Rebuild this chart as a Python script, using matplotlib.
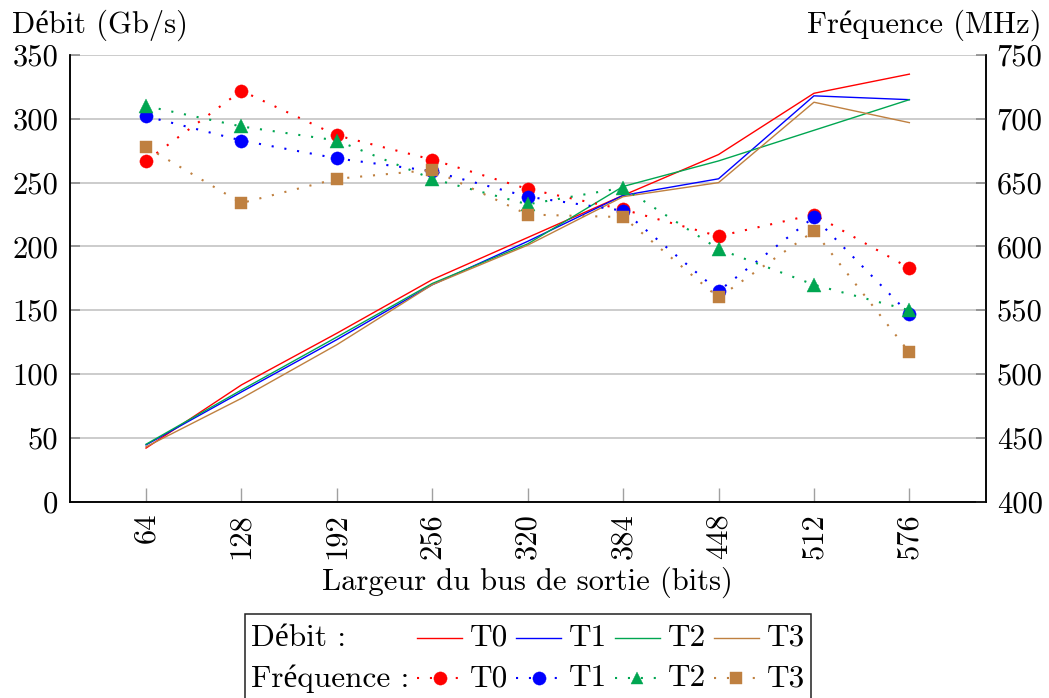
import matplotlib
matplotlib.use("Agg")
import matplotlib.pyplot as plt
from matplotlib.lines import Line2D
from matplotlib.offsetbox import (AnchoredOffsetbox, DrawingArea, HPacker,
                                  TextArea, VPacker)

plt.rcParams['font.family'] = ['cmr10', 'Liberation Serif']
plt.rcParams['mathtext.fontset'] = 'cm'
plt.rcParams['axes.formatter.use_mathtext'] = True

# Bus widths (bits)
bus_width = [64, 128, 192, 256, 320, 384, 448, 512, 576]
series = ['T0', 'T1', 'T2', 'T3']

# Throughput (Gb/s), left axis
debit_T0 = [42, 91.5, 132, 174, 207, 240, 272, 320, 335]
debit_T1 = [44.5, 86, 127, 170, 204, 240, 253, 318, 315]
debit_T2 = [45, 87.5, 129, 171, 202, 247, 267, 291, 315]
debit_T3 = [43, 81, 123, 170, 201, 239, 250, 313, 297]

# Frequency (MHz), right axis
freq_T0 = [667, 722, 687, 668, 645, 629, 608, 625, 583]
freq_T1 = [702, 683, 669, 659, 639, 628, 565, 623, 547]
freq_T2 = [710, 694, 683, 653, 633, 646, 598, 570, 550]
freq_T3 = [678, 634, 653, 660, 625, 623, 560, 612, 517]

debit = [debit_T0, debit_T1, debit_T2, debit_T3]
freq = [freq_T0, freq_T1, freq_T2, freq_T3]

left_ticks = [0, 50, 100, 150, 200, 250, 300, 350]
right_ticks = [400, 450, 500, 550, 600, 650, 700, 750]

colors = ['#ff0000', '#0000ff', '#00a651', '#bf8040']
markers = ['o', 'o', '^', 's']
msizes = [9.5, 9.5, 9.5, 9.2]
dotted = (0, (1, 5.2))

FS = 22
LFS = 22.5
W, H = 1049, 698
fig = plt.figure(figsize=(W / 100, H / 100), dpi=100)
ax = fig.add_axes([69.7 / W, 1 - 501.7 / H, (985.7 - 69.7) / W, (501.7 - 55) / H])
ax2 = ax.twinx()

grid_col = '#bfbfbf'
for y in left_ticks:
    ax.axhline(y, color=grid_col, lw=1.1, zorder=0)

for i in range(4):
    ax.plot(bus_width, debit[i], color=colors[i], lw=1.0, zorder=2)

for i in range(4):
    ax2.plot(bus_width, freq[i], color=colors[i], lw=1.5, ls=dotted,
             marker=markers[i], ms=msizes[i], mfc=colors[i], mec=colors[i],
             mew=0.3, zorder=3)

pad = 0.1 * (bus_width[-1] - bus_width[0])
ax.set_xlim(bus_width[0] - pad, bus_width[-1] + pad)
ax.set_ylim(left_ticks[0], left_ticks[-1])
ax2.set_ylim(right_ticks[0], right_ticks[-1])

ax.set_xticks(bus_width)
ax.set_xticklabels([str(v) for v in bus_width], rotation=90, fontsize=FS)
ax.set_yticks(left_ticks)
ax.set_yticklabels([str(v) for v in left_ticks], fontsize=FS)
ax2.set_yticks(right_ticks)
ax2.set_yticklabels([str(v) for v in right_ticks], fontsize=FS)

ax.tick_params(axis='x', direction='in', length=10, width=1.0, color='#a0a0a0',
               pad=8, top=False)
ax.tick_params(axis='y', direction='in', length=7, width=1.2, color='#8c8c8c',
               pad=8)
ax2.tick_params(axis='y', direction='in', length=7, width=1.2, color='#8c8c8c',
                pad=8)

for a in (ax, ax2):
    a.spines['top'].set_visible(False)
    for s in ('left', 'right', 'bottom'):
        a.spines[s].set_linewidth(1.1)
        a.spines[s].set_color('black')

ax.set_xlabel('Largeur du bus de sortie (bits)', fontsize=FS, labelpad=6)
fig.text(12 / W, 1 - 25 / H, 'Débit (Gb/s)', fontsize=FS, ha='left', va='center')
fig.text(1042 / W, 1 - 25 / H, 'Fréquence (MHz)', fontsize=FS, ha='right',
         va='center')

# Two-row legend: a row header followed by one sample per series
hl, hh = 32.4, 14


def line_sample(color):
    da = DrawingArea(hl, hh, 0, 0)
    da.add_artist(Line2D([0, hl], [hh / 2, hh / 2], color=color, lw=1.0))
    return da


def mark_sample(color, marker, ms):
    da = DrawingArea(hl, hh, 0, 0)
    da.add_artist(Line2D([0, hl], [hh / 2, hh / 2], color=color, lw=1.5,
                         ls=dotted))
    da.add_artist(Line2D([hl / 2], [hh / 2], color=color, marker=marker,
                         ms=ms, mfc=color, mec=color, mew=0.3, ls='none'))
    return da


row_sep = 9
tp = dict(fontsize=LFS)
header = VPacker(children=[TextArea('Débit :', textprops=tp),
                           TextArea('Fréquence :', textprops=tp)],
                 align='left', pad=0, sep=row_sep)
cols = [header]
leg_ms = [9.5, 9.5, 8.0, 9.0]
for i, name in enumerate(series):
    r1 = HPacker(children=[line_sample(colors[i]), TextArea(name, textprops=tp)],
                 align='center', pad=0, sep=5.6)
    r2 = HPacker(children=[mark_sample(colors[i], markers[i], leg_ms[i]),
                           TextArea(name, textprops=tp)],
                 align='center', pad=0, sep=5.6)
    cols.append(VPacker(children=[r1, r2], align='left', pad=0, sep=row_sep))
body = HPacker(children=cols, align='top', pad=0, sep=5.6)
content = VPacker(children=[DrawingArea(1, 3, 0, 0), body], align='left',
                  pad=0, sep=0)
leg = AnchoredOffsetbox(loc='upper center', child=content, pad=0.42,
                        borderpad=0, frameon=True,
                        bbox_to_anchor=(528 / W, 1 - 614 / H),
                        bbox_transform=fig.transFigure)
leg.patch.set_edgecolor('#202020')
leg.patch.set_linewidth(1.1)
leg.patch.set_boxstyle('square', pad=0)
fig.add_artist(leg)

fig.savefig('out.png', dpi=100)
